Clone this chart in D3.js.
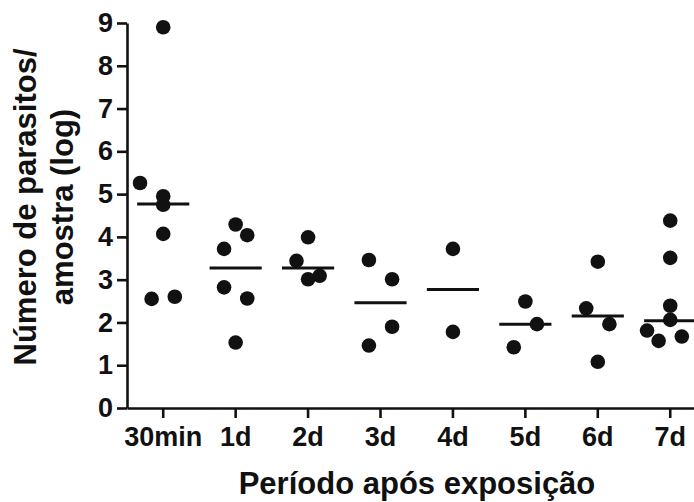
<!DOCTYPE html>
<html lang="pt">
<head>
<meta charset="UTF-8" />
<title>Número de parasitos por amostra</title>
<script src="https://d3js.org/d3.v7.min.js"></script>
<style>
body {
    margin: 0;
    padding: 0;
    background: #fff;
}
svg {
    display: block;
    font-family: "Liberation Sans", Arial, sans-serif;
    font-weight: bold;
}
.axis path, .axis line {
    stroke: #111;
    stroke-width: 2.6;
}
.axis text {
    font-size: 27px;
    font-weight: bold;
    fill: #111;
    font-family: "Liberation Sans", Arial, sans-serif;
}
</style>
</head>
<body>
<svg width="694" height="502"></svg>
<script>
// categories (time after exposure)
const categories = ["30min", "1d", "2d", "3d", "4d", "5d", "6d", "7d"];

// log values per sample
const values = [
    [8.9, 5.26, 4.95, 4.75, 4.07, 2.55, 2.6],
    [4.29, 4.04, 3.72, 2.82, 2.56, 1.53],
    [3.99, 3.44, 3.01, 3.09],
    [3.46, 3.01, 1.9, 1.46],
    [3.72, 1.78],
    [2.49, 1.96, 1.42],
    [3.42, 2.33, 1.96, 1.08],
    [4.38, 3.51, 2.39, 2.06, 1.81, 1.57, 1.67]
];

// horizontal lane of each dot in the scatter column (-2..2)
const lanes = [
    [0, -2, 0, 0, 0, -1, 1],
    [0, 1, -1, -1, 1, 0],
    [0, -1, 0, 1],
    [-1, 1, 1, -1],
    [0, 0],
    [0, 1, -1],
    [0, -1, 1, 0],
    [0, 0, 0, 0, -2, -1, 1]
];

// median line per group
const medians = [4.77, 3.27, 3.27, 2.46, 2.77, 1.96, 2.15, 2.04];

const yTicks = [0, 1, 2, 3, 4, 5, 6, 7, 8, 9];

const svg = d3.select("svg");

const x = d3.scaleBand()
    .domain(categories)
    .range([127, 127 + 8 * 72.43])
    .padding(0);

const y = d3.scaleLinear()
    .domain([0, 9])
    .range([408, 23]);

const bw = x.bandwidth();
const cx = (c) => x(c) + bw / 2;

// axes
svg.append("g")
    .attr("class", "axis")
    .attr("transform", "translate(0,408)")
    .call(d3.axisBottom(x).tickSize(10).tickSizeOuter(0).tickPadding(9));

svg.append("g")
    .attr("class", "axis")
    .attr("transform", "translate(127,0)")
    .call(d3.axisLeft(y).tickValues(yTicks).tickFormat(d3.format("d")).tickSize(10).tickSizeOuter(0).tickPadding(4));

// dots
const pts = [];
categories.forEach((c, i) => {
    values[i].forEach((v, j) => pts.push({ cat: c, v: v, lane: lanes[i][j] }));
});

svg.append("g")
    .selectAll("circle")
    .data(pts)
    .enter()
    .append("circle")
    .attr("cx", (d) => cx(d.cat) + d.lane * bw * 0.16)
    .attr("cy", (d) => y(d.v))
    .attr("r", 7.3)
    .attr("fill", "#111");

// median lines
svg.append("g")
    .selectAll("line")
    .data(categories)
    .enter()
    .append("line")
    .attr("x1", (c) => cx(c) - bw * 0.36)
    .attr("x2", (c) => cx(c) + bw * 0.36)
    .attr("y1", (c, i) => y(medians[i]))
    .attr("y2", (c, i) => y(medians[i]))
    .attr("stroke", "#111")
    .attr("stroke-width", 3);

// axis titles
svg.append("text")
    .attr("x", 417)
    .attr("y", 494)
    .attr("text-anchor", "middle")
    .attr("font-size", 31)
    .attr("fill", "#111")
    .text("Período após exposição");

const yt = svg.append("text")
    .attr("transform", "translate(0,207) rotate(-90)")
    .attr("text-anchor", "middle")
    .attr("font-size", 31)
    .attr("fill", "#111");
yt.append("tspan").attr("x", 0).attr("y", 36).text("Número de parasitos/");
yt.append("tspan").attr("x", 0).attr("y", 73).text("amostra (log)");
</script>
</body>
</html>
